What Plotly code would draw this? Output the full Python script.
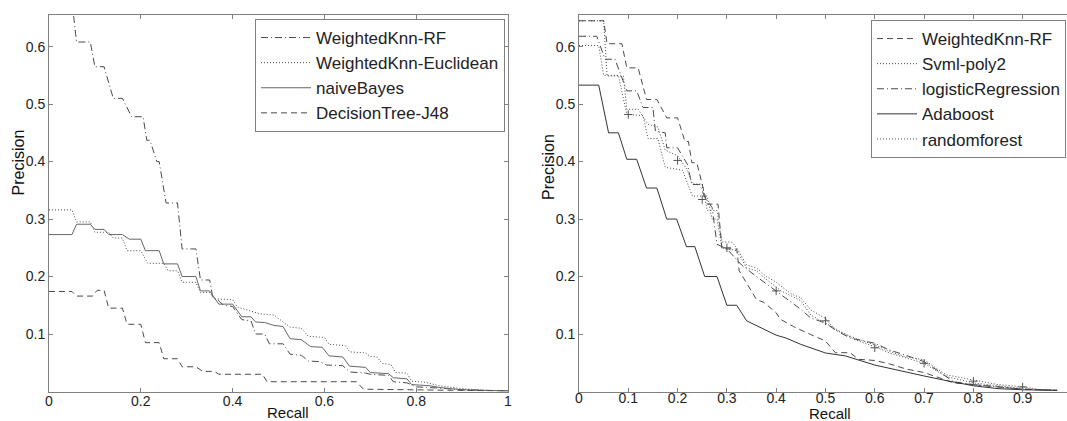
import plotly.graph_objects as go

# ---------------- Left panel data (recall, precision) ----------------
L_rf_x = [0.04, 0.06, 0.09, 0.10, 0.12, 0.14, 0.16, 0.18, 0.205, 0.213, 0.22, 0.235, 0.24, 0.255, 0.28,
          0.29, 0.32, 0.33, 0.35, 0.357, 0.37, 0.38, 0.40, 0.42, 0.44, 0.45, 0.47, 0.48, 0.51, 0.525, 0.55,
          0.565, 0.59, 0.605, 0.64, 0.655, 0.69, 0.70, 0.74, 0.75, 0.78, 0.80, 0.85, 0.90, 1.0]
L_rf_y = [0.75, 0.608, 0.608, 0.565, 0.565, 0.51, 0.51, 0.478, 0.478, 0.437, 0.437, 0.40, 0.40, 0.328, 0.328,
          0.248, 0.248, 0.194, 0.194, 0.163, 0.158, 0.15, 0.148, 0.125, 0.123, 0.10, 0.10, 0.083, 0.083, 0.065, 0.063,
          0.053, 0.052, 0.046, 0.045, 0.034, 0.032, 0.030, 0.028, 0.017, 0.015, 0.008, 0.006, 0.003, 0.001]

L_euc_x = [0, 0.05, 0.06, 0.09, 0.10, 0.13, 0.14, 0.16, 0.17, 0.20, 0.215, 0.25, 0.26, 0.28, 0.29, 0.32,
           0.33, 0.35, 0.36, 0.40, 0.41, 0.44, 0.46, 0.49, 0.525, 0.55, 0.565, 0.60, 0.61, 0.645, 0.655, 0.69,
           0.70, 0.715, 0.725, 0.745, 0.755, 0.78, 0.79, 0.82, 0.85, 0.90, 0.95, 1.0]
L_euc_y = [0.316, 0.316, 0.295, 0.295, 0.277, 0.277, 0.267, 0.267, 0.245, 0.245, 0.223, 0.223, 0.21, 0.21, 0.19, 0.19,
           0.172, 0.172, 0.161, 0.16, 0.147, 0.14, 0.135, 0.133, 0.112, 0.11, 0.096, 0.094, 0.082, 0.08, 0.069, 0.067,
           0.061, 0.06, 0.049, 0.047, 0.033, 0.032, 0.018, 0.016, 0.010, 0.005, 0.002, 0.001]

L_nb_x = [0, 0.05, 0.06, 0.09, 0.10, 0.12, 0.13, 0.16, 0.175, 0.20, 0.21, 0.24, 0.25, 0.28, 0.29, 0.32,
          0.33, 0.35, 0.37, 0.40, 0.42, 0.44, 0.45, 0.47, 0.49, 0.51, 0.525, 0.55, 0.57, 0.595, 0.61, 0.64,
          0.655, 0.69, 0.70, 0.74, 0.75, 0.78, 0.79, 0.83, 0.85, 0.90, 1.0]
L_nb_y = [0.273, 0.273, 0.291, 0.291, 0.282, 0.282, 0.273, 0.273, 0.265, 0.265, 0.245, 0.245, 0.222, 0.222, 0.20, 0.20,
          0.175, 0.175, 0.152, 0.152, 0.13, 0.13, 0.121, 0.12, 0.115, 0.113, 0.092, 0.09, 0.078, 0.077, 0.062, 0.06,
          0.044, 0.042, 0.033, 0.031, 0.024, 0.022, 0.012, 0.01, 0.007, 0.003, 0.001]

L_dt_x = [0, 0.05, 0.06, 0.095, 0.105, 0.12, 0.13, 0.16, 0.17, 0.20, 0.21, 0.24, 0.25, 0.28, 0.29, 0.32,
          0.335, 0.36, 0.37, 0.465, 0.475, 0.67, 0.685, 0.80, 0.90, 1.0]
L_dt_y = [0.174, 0.174, 0.166, 0.166, 0.176, 0.176, 0.145, 0.145, 0.117, 0.117, 0.085, 0.085, 0.057, 0.057, 0.043, 0.043,
          0.035, 0.035, 0.030, 0.030, 0.017, 0.017, 0.004, 0.003, 0.002, 0.001]

# ---------------- Right panel data ----------------
R_rf_x = [0, 0.05, 0.057, 0.087, 0.097, 0.12, 0.137, 0.158, 0.178, 0.20, 0.215, 0.222, 0.229, 0.239, 0.26, 0.282,
          0.29, 0.32, 0.325, 0.337, 0.36, 0.375, 0.40, 0.408, 0.435, 0.469, 0.50, 0.52, 0.55, 0.567, 0.60, 0.63,
          0.664, 0.70, 0.76, 0.80, 0.85, 0.90, 0.97]
R_rf_y = [0.645, 0.645, 0.605, 0.605, 0.563, 0.563, 0.508, 0.508, 0.476, 0.476, 0.435, 0.435, 0.398, 0.398, 0.326, 0.326,
          0.248, 0.248, 0.21, 0.192, 0.16, 0.155, 0.137, 0.126, 0.113, 0.0995, 0.088, 0.0675, 0.0675, 0.056, 0.054, 0.048,
          0.039, 0.033, 0.015, 0.012, 0.008, 0.004, 0.002]

R_svm_x = [0, 0.05, 0.057, 0.09, 0.097, 0.12, 0.14, 0.16, 0.175, 0.20, 0.22, 0.23, 0.25, 0.26, 0.28, 0.29, 0.31,
           0.32, 0.34, 0.36, 0.38, 0.40, 0.43, 0.45, 0.47, 0.50, 0.52, 0.56, 0.60, 0.63, 0.66, 0.70, 0.745, 0.80,
           0.85, 0.90, 0.935, 0.97]
R_svm_y = [0.645, 0.645, 0.549, 0.549, 0.491, 0.491, 0.465, 0.46, 0.42, 0.41, 0.385, 0.361, 0.361, 0.315, 0.315, 0.26, 0.26,
           0.25, 0.22, 0.215, 0.20, 0.19, 0.17, 0.163, 0.142, 0.127, 0.107, 0.093, 0.081, 0.07, 0.061, 0.055, 0.029, 0.02,
           0.012, 0.008, 0.003, 0.002]

R_lr_x = [0, 0.036, 0.053, 0.073, 0.097, 0.117, 0.13, 0.15, 0.155, 0.175, 0.178, 0.20, 0.22, 0.229, 0.245, 0.255,
          0.27, 0.28, 0.30, 0.33, 0.36, 0.40, 0.45, 0.47, 0.50, 0.52, 0.55, 0.60, 0.63, 0.66, 0.70, 0.73, 0.76,
          0.80, 0.90, 0.97]
R_lr_y = [0.618, 0.618, 0.578, 0.578, 0.523, 0.523, 0.494, 0.494, 0.453, 0.45, 0.424, 0.424, 0.395, 0.36, 0.36, 0.338,
          0.32, 0.256, 0.248, 0.22, 0.20, 0.175, 0.143, 0.128, 0.119, 0.107, 0.093, 0.084, 0.072, 0.064, 0.052, 0.035, 0.017,
          0.012, 0.004, 0.002]

R_ada_x = [0, 0.04, 0.06, 0.08, 0.097, 0.117, 0.137, 0.158, 0.178, 0.198, 0.218, 0.235, 0.255, 0.28, 0.30, 0.32,
           0.34, 0.37, 0.40, 0.42, 0.45, 0.50, 0.54, 0.60, 0.645, 0.70, 0.745, 0.80, 0.85, 0.90, 0.97]
R_ada_y = [0.533, 0.533, 0.45, 0.45, 0.404, 0.404, 0.354, 0.354, 0.30, 0.30, 0.252, 0.252, 0.20, 0.20, 0.15, 0.15,
           0.123, 0.11, 0.098, 0.093, 0.082, 0.067, 0.062, 0.046, 0.037, 0.027, 0.019, 0.010, 0.005, 0.003, 0.002]

R_rfo_x = [0, 0.04, 0.05, 0.08, 0.097, 0.13, 0.14, 0.16, 0.175, 0.21, 0.23, 0.26, 0.27, 0.28, 0.29, 0.32, 0.34,
           0.36, 0.38, 0.41, 0.45, 0.47, 0.50, 0.56, 0.60, 0.63, 0.70, 0.745, 0.80, 0.85, 0.90, 0.97]
R_rfo_y = [0.602, 0.602, 0.55, 0.55, 0.482, 0.48, 0.44, 0.44, 0.39, 0.385, 0.34, 0.34, 0.30, 0.30, 0.25, 0.245, 0.215,
           0.21, 0.195, 0.175, 0.158, 0.133, 0.119, 0.09, 0.078, 0.067, 0.049, 0.026, 0.015, 0.01, 0.005, 0.002]

# interpolated precision marks ("+")
R_pts_x = [0.1, 0.2, 0.25, 0.3, 0.4, 0.5, 0.6, 0.7, 0.8, 0.9]
R_pts_y = [0.482, 0.402, 0.334, 0.25, 0.175, 0.123, 0.076, 0.049, 0.018, 0.008]

left_ticks_x = [0, 0.2, 0.4, 0.6, 0.8, 1]
left_ticklabels_x = ["0", "0.2", "0.4", "0.6", "0.8", "1"]
right_ticks_x = [0, 0.1, 0.2, 0.3, 0.4, 0.5, 0.6, 0.7, 0.8, 0.9]
right_ticklabels_x = ["0", "0.1", "0.2", "0.3", "0.4", "0.5", "0.6", "0.7", "0.8", "0.9"]
ticks_y = [0.1, 0.2, 0.3, 0.4, 0.5, 0.6]
ticklabels_y = ["0.1", "0.2", "0.3", "0.4", "0.5", "0.6"]

FONT = "Liberation Sans, Arial, sans-serif"
LC = "#4a4a4a"
DASH = "6px,4px"
DOT = "1px,2px"
DASHDOT = "7px,3px,1px,3px"

W, H = 1067, 421
fig = go.Figure()

def add(x, y, name, dash, xa, ya, leg, color=LC):
    fig.add_trace(go.Scatter(x=x, y=y, mode="lines", name=name, xaxis=xa, yaxis=ya, legend=leg,
                             line=dict(color=color, width=1, dash=dash), cliponaxis=True))

add(L_rf_x, L_rf_y, "WeightedKnn-RF", DASHDOT, "x", "y", "legend")
add(L_euc_x, L_euc_y, "WeightedKnn-Euclidean", DOT, "x", "y", "legend")
add(L_nb_x, L_nb_y, "naiveBayes", "solid", "x", "y", "legend", "#666666")
add(L_dt_x, L_dt_y, "DecisionTree-J48", DASH, "x", "y", "legend")

add(R_rf_x, R_rf_y, "WeightedKnn-RF", DASH, "x2", "y2", "legend2")
add(R_svm_x, R_svm_y, "Svml-poly2", DOT, "x2", "y2", "legend2")
add(R_lr_x, R_lr_y, "logisticRegression", DASHDOT, "x2", "y2", "legend2")
add(R_ada_x, R_ada_y, "Adaboost", "solid", "x2", "y2", "legend2", "#333333")
add(R_rfo_x, R_rfo_y, "randomforest", DOT, "x2", "y2", "legend2")

fig.add_trace(go.Scatter(x=R_pts_x, y=R_pts_y, mode="markers", xaxis="x2", yaxis="y2", showlegend=False,
                         marker=dict(symbol="cross-thin", size=6, line=dict(color="#555555", width=1))))

ydom = [(H - 391.5) / H, (H - 15) / H]
axcommon = dict(showline=True, linecolor="#808080", linewidth=1, ticks="inside", ticklen=4,
                tickcolor="#808080", showgrid=False, zeroline=False, automargin=False,
                tickfont=dict(family=FONT, size=14, color="#222222"))

legfont = dict(family=FONT, size=17, color="#222222")
fig.update_layout(
    width=W, height=H, margin=dict(l=0, r=0, t=0, b=0),
    paper_bgcolor="white", plot_bgcolor="white", template=None,
    xaxis=dict(domain=[49 / W, 508 / W], range=[0, 1], tickvals=left_ticks_x, ticktext=left_ticklabels_x,
               anchor="y", mirror="ticks", ticklabelstandoff=-3, **axcommon),
    yaxis=dict(domain=ydom, range=[0, 0.655], tickvals=ticks_y, ticktext=ticklabels_y,
               anchor="x", mirror="ticks", **axcommon),
    xaxis2=dict(domain=[579 / W, 1.0], range=[0, 0.99], tickvals=right_ticks_x, ticktext=right_ticklabels_x,
                anchor="y2", mirror="ticks", ticklabelstandoff=-6, **axcommon),
    yaxis2=dict(domain=ydom, range=[0, 0.655], tickvals=ticks_y, ticktext=ticklabels_y,
                anchor="x2", mirror=False, **axcommon),
    legend=dict(x=505 / W, y=(H - 19) / H, xanchor="right", yanchor="top", bgcolor="white",
                bordercolor="#808080", borderwidth=1, font=legfont, itemwidth=50,
                tracegroupgap=0),
    legend2=dict(x=1066 / W, y=(H - 20) / H, xanchor="right", yanchor="top", bgcolor="white",
                 bordercolor="#808080", borderwidth=1, font=legfont, itemwidth=40,
                 tracegroupgap=0),
    font=dict(family=FONT, color="#222222"),
)

tfont = dict(family=FONT, size=15, color="#111111")
fig.add_annotation(text="Recall", x=0.52, xref="x", y=(H - 412) / H, yref="paper", borderpad=0,
                   showarrow=False, font=tfont, xanchor="center", yanchor="middle")
fig.add_annotation(text="Recall", x=0.51, xref="x2", y=(H - 413) / H, yref="paper", borderpad=0,
                   showarrow=False, font=tfont, xanchor="center", yanchor="middle")
fig.add_annotation(text="Precision", x=18.5 / W, xref="paper", y=(H - 163) / H, yref="paper",
                   showarrow=False, font=dict(family=FONT, size=16, color="#111111"), textangle=-90,
                   xanchor="center", yanchor="middle")
fig.add_annotation(text="Precision", x=548 / W, xref="paper", y=(H - 167) / H, yref="paper",
                   showarrow=False, font=dict(family=FONT, size=16, color="#111111"), textangle=-90,
                   xanchor="center", yanchor="middle")

fig.write_html("out.html")
